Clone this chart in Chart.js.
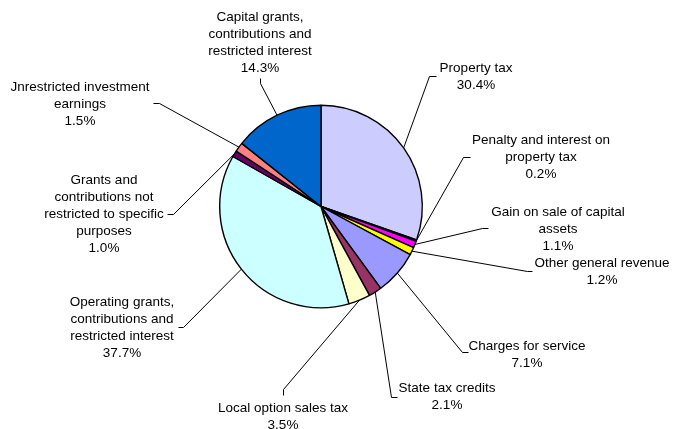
<!DOCTYPE html>
<html>
<head>
<meta charset="utf-8">
<script src="https://cdn.jsdelivr.net/npm/chart.js@4/dist/chart.umd.min.js"></script>
<style>
html,body{margin:0;padding:0;background:#fff;}
#wrap{width:673px;height:429px;position:relative;}
</style>
</head>
<body>
<div id="wrap"><canvas id="c" width="673" height="429"></canvas></div>
<script>
// ---- data ----
const categories = [
  ["Property tax"],
  ["Penalty and interest on", "property tax"],
  ["Gain on sale of capital", "assets"],
  ["Other general revenue"],
  ["Charges for service"],
  ["State tax credits"],
  ["Local option sales tax"],
  ["Operating grants,", "contributions and", "restricted interest"],
  ["Grants and", "contributions not", "restricted to specific", "purposes"],
  ["Jnrestricted investment", "earnings"],
  ["Capital grants,", "contributions and", "restricted interest"]
];
const values = [30.4, 0.2, 1.1, 1.2, 7.1, 2.1, 3.5, 37.7, 1.0, 1.5, 14.3];
const colors = ["#CCCCFF", "#000080", "#FF00FF", "#FFFF00", "#9999FF", "#993366",
                "#FFFFCC", "#CCFFFF", "#660066", "#FF8080", "#0066CC"];

// ---- label layout (text centre x, first-line y, leader segment near text) ----
const labelLayout = [
  {x: 476, y: 68,  lead: [[436, 76], [429, 76]]},
  {x: 541, y: 140, lead: [[470, 157], [463, 157]]},
  {x: 558, y: 212, lead: [[488, 228], [482, 228]]},
  {x: 602, y: 263, lead: [[532, 271], [527, 271]]},
  {x: 527, y: 346, lead: [[468, 352], [462, 352]]},
  {x: 447, y: 388, lead: [[397, 397], [391, 397]]},
  {x: 283, y: 408, lead: [[283, 395], [283, 389]]},
  {x: 122, y: 302, lead: [[178, 327], [183, 327]]},
  {x: 104, y: 180, lead: [[167, 214], [173, 214]]},
  {x: 80,  y: 87,  lead: [[153, 103], [159, 103]]},
  {x: 260, y: 17,  lead: [[260, 78], [260, 83]]}
];
const LINE_H = 17;
const FONT = '13.5px "Liberation Sans", Arial, sans-serif';

const labelPlugin = {
  id: 'pieLabels',
  afterDatasetsDraw(chart) {
    const ctx = chart.ctx;
    const meta = chart.getDatasetMeta(0);
    ctx.save();
    ctx.strokeStyle = '#000';
    ctx.lineWidth = 1;
    ctx.fillStyle = '#000';
    ctx.font = FONT;
    ctx.textAlign = 'center';
    ctx.textBaseline = 'middle';
    meta.data.forEach((arc, i) => {
      const p = arc.getProps(['x', 'y', 'startAngle', 'endAngle', 'outerRadius'], true);
      const mid = (p.startAngle + p.endAngle) / 2;
      const ex = p.x + Math.cos(mid) * p.outerRadius;
      const ey = p.y + Math.sin(mid) * p.outerRadius;
      const L = labelLayout[i];
      ctx.beginPath();
      ctx.moveTo(L.lead[0][0] + 0.5, L.lead[0][1] + 0.5);
      ctx.lineTo(L.lead[1][0] + 0.5, L.lead[1][1] + 0.5);
      ctx.lineTo(ex, ey);
      ctx.stroke();
      const lines = categories[i].concat([values[i].toFixed(1) + '%']);
      lines.forEach((t, k) => ctx.fillText(t, L.x, L.y + k * LINE_H));
    });
    ctx.restore();
  }
};

new Chart(document.getElementById('c'), {
  type: 'pie',
  data: {
    labels: categories,
    datasets: [{
      data: values,
      backgroundColor: colors,
      borderColor: '#000',
      borderWidth: 1.4
    }]
  },
  options: {
    responsive: false,
    animation: false,
    rotation: 0,
    layout: {padding: {top: 104, bottom: 120, left: 219, right: 250}},
    plugins: {legend: {display: false}, tooltip: {enabled: false}}
  },
  plugins: [labelPlugin]
});
</script>
</body>
</html>
